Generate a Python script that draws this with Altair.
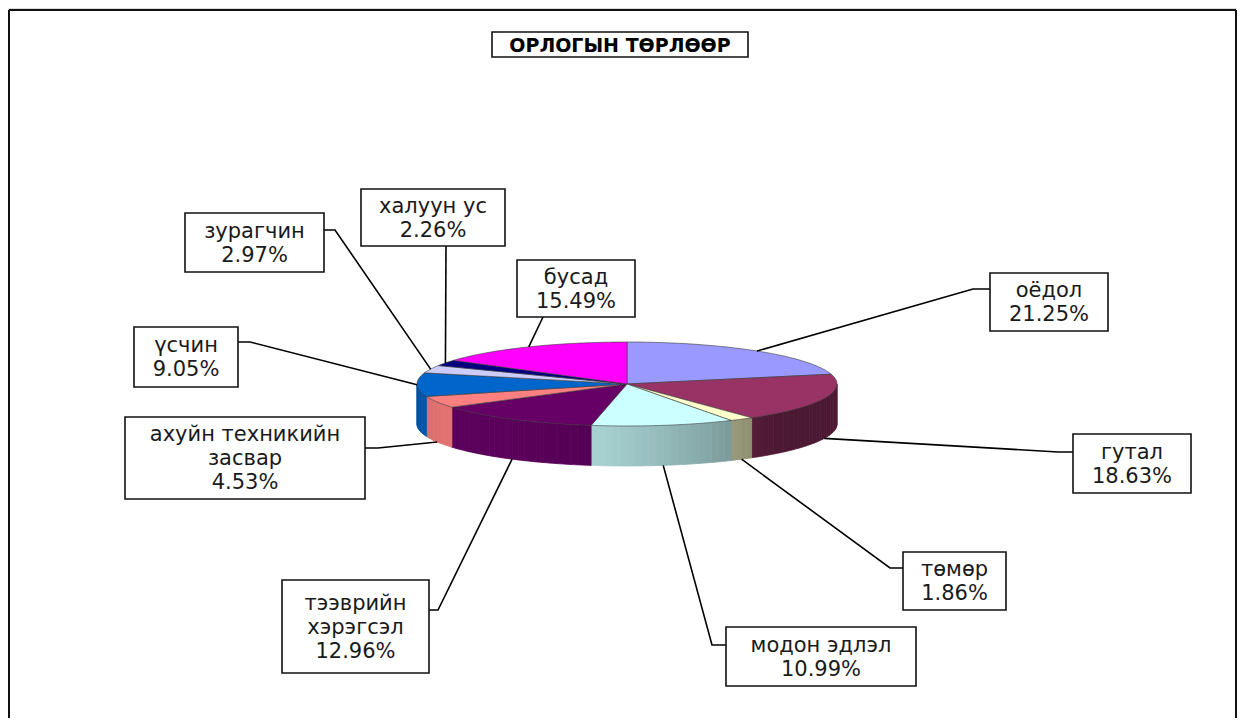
import math
import pandas as pd
import altair as alt

# ---- data ----
categories = ["оёдол", "гутал", "төмөр", "модон эдлэл", "тээврийн хэрэгсэл",
              "ахуйн техникийн засвар", "үсчин", "зурагчин", "халуун ус", "бусад"]
shares = [21.25, 18.63, 1.86, 10.99, 12.96, 4.53, 9.05, 2.97, 2.26, 15.49]
title_text = "ОРЛОГЫН ТӨРЛӨӨР"

# ---- styles / layout ----
palette = ["#9999FF", "#993366", "#FFFFCC", "#CCFFFF", "#660066",
           "#FF8080", "#0066CC", "#CCCCFF", "#000080", "#FF00FF"]
wrap = {"ахуйн техникийн засвар": "ахуйн техникийн\nзасвар",
        "тээврийн хэрэгсэл": "тээврийн\nхэрэгсэл"}
CX, CY, RX, RY, DEPTH = 627, 384, 210, 42, 40
boxes = [(990, 273, 1108, 331), (1073, 434, 1191, 493), (903, 552, 1006, 610),
         (726, 627, 916, 686), (282, 580, 429, 673), (125, 417, 365, 499),
         (134, 327, 238, 387), (185, 213, 324, 272), (361, 189, 505, 246),
         (517, 260, 635, 317)]
leader_tail = [[(973, 289), (990, 289)], [(1058, 452), (1073, 452)],
               [(890, 568), (903, 568)], [(712, 645), (726, 645)],
               [(438, 610), (429, 610)], [(378, 448), (365, 448)],
               [(250, 342), (238, 342)], [(335, 230), (324, 230)],
               [(446, 246)], [(543, 317)]]
title_box = (492, 32, 748, 57)
W, H = 1229, 710
X0, Y0 = 8, 8
LH = 24


def pt(theta, dy=0.0):
    t = math.radians(theta)
    return CX + RX * math.sin(t), CY - RY * math.cos(t) + dy


def shade(hexcol, f):
    r, g, b = (int(hexcol[i:i + 2], 16) for i in (1, 3, 5))
    return "#%02x%02x%02x" % (int(r * f), int(g * f), int(b * f))


total = sum(shares)
starts, ends = [], []
acc = 0.0
for s in shares:
    starts.append(acc / total * 360)
    acc += s
    ends.append(acc / total * 360)

# top faces
top_rows = []
for k, (a, b) in enumerate(zip(starts, ends)):
    pts = [(CX, CY)]
    n = max(2, int((b - a) / 1.0) + 1)
    for j in range(n + 1):
        pts.append(pt(a + (b - a) * j / n))
    pts.append((CX, CY))
    for i, (x, y) in enumerate(pts):
        top_rows.append({"poly": f"t{k}", "i": i, "x": x, "y": y, "col": palette[k]})
top_df = pd.DataFrame(top_rows)

# side walls (front half), split into shaded strips
wall_rows = []
for k, (a, b) in enumerate(zip(starts, ends)):
    lo, hi = max(a, 90), min(b, 270)
    if hi <= lo:
        continue
    n = max(1, int(math.ceil((hi - lo) / 2.0)))
    for j in range(n):
        t1 = lo + (hi - lo) * j / n
        t2 = lo + (hi - lo) * (j + 1) / n
        tm = (t1 + t2) / 2
        f = 0.5 + 0.4 * max(0.0, math.cos(math.radians(tm - 225)))
        col = shade(palette[k], f)
        quad = [pt(t1), pt(tm), pt(t2), pt(t2, DEPTH), pt(tm, DEPTH), pt(t1, DEPTH), pt(t1)]
        for i, (x, y) in enumerate(quad):
            wall_rows.append({"poly": f"w{k}_{j}", "i": i, "x": x, "y": y, "col": col})
wall_df = pd.DataFrame(wall_rows)

# leader lines
lead_rows = []
for k, (a, b) in enumerate(zip(starts, ends)):
    m = (a + b) / 2
    dy = DEPTH if math.cos(math.radians(m)) < -0.1 else 0
    pts = [pt(m, dy)] + leader_tail[k]
    for i, (x, y) in enumerate(pts):
        lead_rows.append({"line": k, "i": i, "x": x, "y": y})
lead_df = pd.DataFrame(lead_rows)

# label boxes + texts
lab_rows = []
for k, c in enumerate(categories):
    x1, y1, x2, y2 = boxes[k]
    label = wrap.get(c, c) + "\n" + f"{shares[k]:.2f}%"
    nlines = label.count("\n") + 1
    lab_rows.append({"x": x1, "y": y1, "x2": x2, "y2": y2,
                     "cx": (x1 + x2) / 2,
                     "cy": (y1 + y2) / 2 + 1 - (nlines - 1) * LH / 2,
                     "label": label})
lab_df = pd.DataFrame(lab_rows)

tx1, ty1, tx2, ty2 = title_box
title_df = pd.DataFrame([{"x": tx1, "y": ty1, "x2": tx2, "y2": ty2,
                          "cx": (tx1 + tx2) / 2, "cy": (ty1 + ty2) / 2 + 1,
                          "label": title_text}])

border_df = pd.DataFrame([
    {"x": 9, "y": 10, "x2": 9, "y2": 718},
    {"x": 9, "y": 10, "x2": 1236, "y2": 10},
    {"x": 1236, "y": 10, "x2": 1236, "y2": 718},
])

xs = alt.Scale(domain=[X0, X0 + W], nice=False, zero=False)
ys = alt.Scale(domain=[Y0, Y0 + H], nice=False, zero=False, reverse=True)
X = alt.X("x:Q", scale=xs, axis=None)
Y = alt.Y("y:Q", scale=ys, axis=None)

walls = alt.Chart(wall_df).mark_line(strokeWidth=0.8, strokeJoin="round").encode(
    x=X, y=Y, detail="poly:N", order=alt.Order("i:Q"),
    fill=alt.Fill("col:N", scale=None), stroke=alt.Stroke("col:N", scale=None))

tops = alt.Chart(top_df).mark_line(stroke="#3a3a3a", strokeWidth=0.6, strokeJoin="round").encode(
    x=X, y=Y, detail="poly:N", order=alt.Order("i:Q"),
    fill=alt.Fill("col:N", scale=None))

leads = alt.Chart(lead_df).mark_line(color="#000000", strokeWidth=1.6).encode(
    x=X, y=Y, detail="line:N", order=alt.Order("i:Q"))

rects = alt.Chart(lab_df).mark_rect(fill="white", stroke="#111111", strokeWidth=1.6).encode(
    x=X, y=Y, x2="x2:Q", y2="y2:Q")

texts = alt.Chart(lab_df).mark_text(font="DejaVu Sans", fontSize=21, lineHeight=LH,
                                    lineBreak="\n", align="center", baseline="middle",
                                    color="#1a1a1a").encode(
    x=alt.X("cx:Q", scale=xs, axis=None), y=alt.Y("cy:Q", scale=ys, axis=None), text="label:N")

trect = alt.Chart(title_df).mark_rect(fill="white", stroke="#111111", strokeWidth=1.6).encode(
    x=X, y=Y, x2="x2:Q", y2="y2:Q")
ttext = alt.Chart(title_df).mark_text(font="DejaVu Sans", fontSize=19, fontWeight="bold",
                                      align="center", baseline="middle", color="#000000").encode(
    x=alt.X("cx:Q", scale=xs, axis=None), y=alt.Y("cy:Q", scale=ys, axis=None), text="label:N")

border = alt.Chart(border_df).mark_rule(color="#111111", strokeWidth=2).encode(
    x=X, y=Y, x2="x2:Q", y2="y2:Q")

chart = alt.layer(walls, tops, leads, rects, texts, trect, ttext, border).properties(
    width=W, height=H, padding=0, autosize=alt.AutoSizeParams(type="none")
).configure_view(stroke=None).configure(background="white")

chart.save("out.html", embed_options={"renderer": "svg", "actions": False})
